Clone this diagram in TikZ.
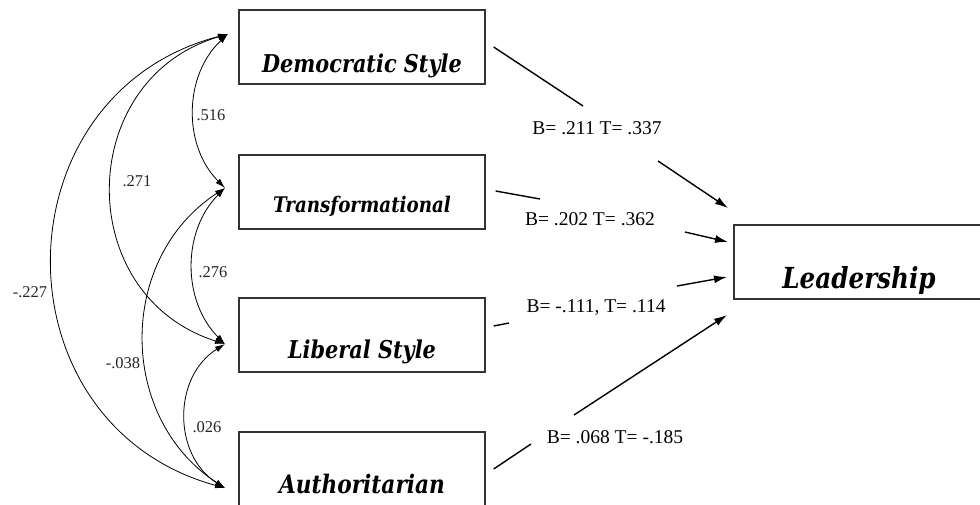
\documentclass[tikz,border=0pt]{standalone}
\usepackage{fontspec}
\setmainfont{Liberation Serif}
\newfontfamily\boxfont[FakeStretch=0.85]{DejaVu Serif}
\usetikzlibrary{positioning,calc,arrows.meta}
\tikzset{
  varbox/.style={draw=black!80, line width=1.3pt, inner sep=0pt, minimum width=246pt,
    font=\boxfont\bfseries\itshape\fontsize{25}{28}\selectfont},
  coef/.style={font=\fontsize{19.5}{21}\selectfont, inner sep=1pt},
  corr/.style={font=\fontsize{16.5}{18}\selectfont, text=black!85, inner sep=1pt},
  path/.style={line width=1.4pt},
  cov/.style={line width=0.8pt, {Latex[length=10pt,width=6pt]}-{Latex[length=10pt,width=6pt]}},
  hit/.style={-{Latex[length=13pt,width=8pt]}}
}
\begin{document}
\begin{tikzpicture}[x=1pt, y=-1pt]
  \clip (0,0) rectangle (980,504);
  \fill[white] (0,0) rectangle (980,504);
  % variables
  \node[varbox, text height=62pt, text depth=12pt, font=\boxfont\bfseries\itshape\fontsize{24.5}{27}\selectfont] (dem) at (362,47) {Democratic Style};
  \node[varbox, text height=57pt, text depth=17pt, font=\boxfont\bfseries\itshape\fontsize{21.5}{24}\selectfont] (trans) at (362,192) {Transformational};
  \node[varbox, text height=60pt, text depth=14pt, font=\boxfont\bfseries\itshape\fontsize{24.5}{27}\selectfont] (lib) at (362,335) {Liberal Style};
  \node[varbox, text height=61pt, text depth=13pt, font=\boxfont\bfseries\itshape\fontsize{25.5}{28}\selectfont] (auth) at (362,469) {Authoritarian};
  \node[varbox, minimum width=250pt, text height=63pt, text depth=11pt, font=\boxfont\bfseries\itshape\fontsize{29}{32}\selectfont] (lead) at (859,262) {Leadership};
  % arc end points
  \coordinate (dp) at (228,34);
  \coordinate (tp) at (225,188);
  \coordinate (lp) at (225,344);
  \coordinate (ap) at (225,488);
  % covariances
  \draw[cov] (dp) to[bend right=46] (tp);
  \draw[cov] (dp) to[bend right=73, looseness=1.32] (lp);
  \draw[cov] (dp) to[bend right=75, looseness=1.35] (ap);
  \draw[cov] (tp) to[bend right=45] (lp);
  \draw[cov] (tp) to[bend right=57, looseness=1.1] (ap);
  \draw[cov] (lp) to[bend right=58, looseness=1.1] (ap);
  \node[corr] (rDT) at (211,115) {.516};
  \node[corr] (rDL) at (137,181) {.271};
  \node[corr] (rDA) at (30,292) {-.227};
  \node[corr] (rTL) at (213,272) {.276};
  \node[corr] (rTA) at (123,363) {-.038};
  \node[corr] (rLA) at (207,427) {.026};
  % paths to leadership
  \node[coef] (bdem) at (597,128) {B= .211 T= .337};
  \node[coef] (btrans) at (590,219) {B= .202 T= .362};
  \node[coef] (blib) at (596,308) {B= -.111, T= .114};
  \node[coef] (bauth) at (615,437) {B= .068 T= -.185};
  \coordinate (d1) at (583,106); \coordinate (d2) at (658,161); \coordinate (d3) at (728,208);
  \coordinate (t1) at (540,199); \coordinate (t2) at (685,232); \coordinate (t3) at (728,242);
  \coordinate (l1) at (509,323); \coordinate (l2) at (677,286); \coordinate (l3) at (727,277);
  \coordinate (a1) at (531,444); \coordinate (a2) at (574,415); \coordinate (a3) at (727,315);
  \draw[path] ([xshift=8pt]dem.east) -- (d1);
  \draw[path, hit] (d2) -- (d3);
  \draw[path] ([xshift=10pt, yshift=1pt]trans.east) -- (t1);
  \draw[path, hit] (t2) -- (t3);
  \draw[path] ([xshift=8pt, yshift=9pt]lib.east) -- (l1);
  \draw[path, hit] (l2) -- (l3);
  \draw[path] ([xshift=8pt]auth.east) -- (a1);
  \draw[path, hit] (a2) -- (a3);
\end{tikzpicture}
\end{document}
